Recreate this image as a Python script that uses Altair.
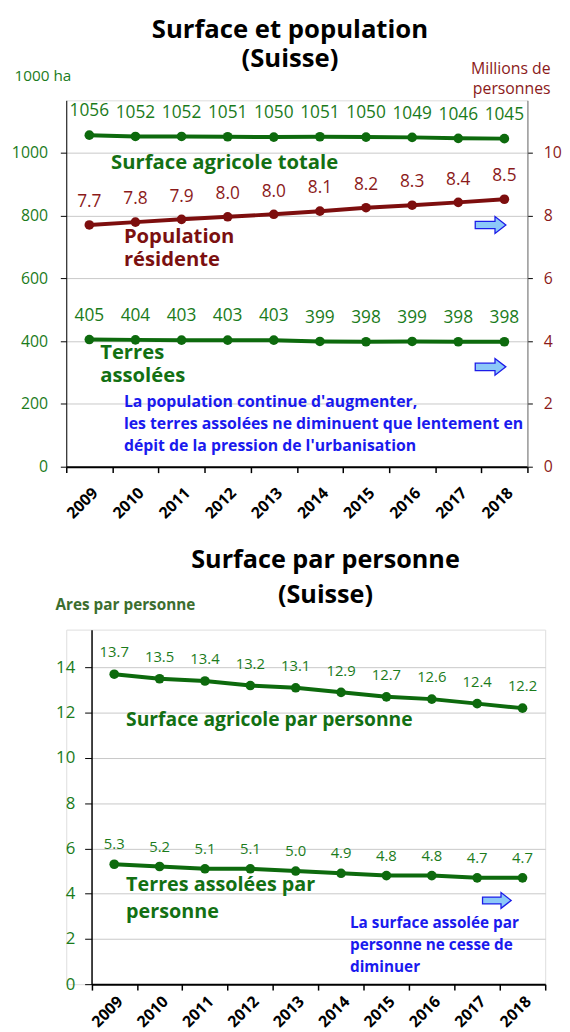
import altair as alt
import pandas as pd

# ---------------- data ----------------
years = ["2009", "2010", "2011", "2012", "2013", "2014", "2015", "2016", "2017", "2018"]
surface_totale = [1056, 1052, 1052, 1051, 1050, 1051, 1050, 1049, 1046, 1045]
terres_assolees = [405, 404, 403, 403, 403, 399, 398, 399, 398, 398]
population = [7.70, 7.79, 7.88, 7.96, 8.04, 8.14, 8.25, 8.33, 8.42, 8.52]
population_labels = ["7.7", "7.8", "7.9", "8.0", "8.0", "8.1", "8.2", "8.3", "8.4", "8.5"]
ares_surface = [13.7, 13.5, 13.4, 13.2, 13.1, 12.9, 12.7, 12.6, 12.4, 12.2]
ares_terres = [5.3, 5.2, 5.1, 5.1, 5.0, 4.9, 4.8, 4.8, 4.7, 4.7]
left_ticks_top = [0, 200, 400, 600, 800, 1000]
right_ticks_top = [0, 2, 4, 6, 8, 10]
ticks_bottom = [0, 2, 4, 6, 8, 10, 12, 14]

# ---------------- styles ----------------
FONT = "Open Sans"
GREEN_LINE = "#0d6a0d"
GREEN_TXT = "#1b7b1b"
GREEN_NAME = "#137013"
RED_LINE = "#7d0e0e"
RED_TXT = "#8b1a1a"
BLUE = "#1a1aee"
ARROW = "M -1 -0.24 L 0.29 -0.24 L 0.29 -0.55 L 1 0 L 0.29 0.55 L 0.29 0.24 L -1 0.24 Z"

TOP_W, TOP_H = 467, 371
BOT_SHIFT, BOT_W, BOT_H = 25.6, 485, 359

top_df = pd.DataFrame({"year": years, "surface": surface_totale, "terres": terres_assolees,
                       "pop": population, "pop_label": population_labels})
bot_df = pd.DataFrame({"year": years, "surf": ares_surface, "terres": ares_terres})


def x_enc(pad=12, rng=None):
    sc = dict(type="band", domain=years, paddingInner=0, paddingOuter=0)
    if rng is not None:
        sc["range"] = rng
    return alt.X("year:N", sort=years, scale=alt.Scale(**sc),
                 axis=alt.Axis(title=None, labelAngle=-45, labelAlign="right", labelBaseline="top",
                               labelFont=FONT, labelFontSize=16, labelFontWeight="bold",
                               labelColor="black", labelPadding=pad, tickBand="extent",
                               tickSize=6, tickColor="black", tickWidth=1.5,
                               domainColor="black", domainWidth=2, grid=False))


def y_left(field):
    return alt.Y(field, type="quantitative",
                 scale=alt.Scale(domain=[0, 1167], nice=False),
                 axis=alt.Axis(values=left_ticks_top, format="d", title="1000 ha", titleAngle=0,
                               titleAlign="left", titleBaseline="alphabetic", titleX=-53, titleY=-20,
                               titleFont=FONT, titleFontSize=15.5, titleFontWeight="normal",
                               titleColor=GREEN_TXT, labelFont=FONT, labelFontSize=16,
                               labelColor=GREEN_TXT, labelPadding=13, tickSize=6,
                               tickColor="black", domainColor="black", domainWidth=1,
                               gridColor="#c8c8c8", gridWidth=1))


def y_right(field):
    return alt.Y(field, type="quantitative",
                 scale=alt.Scale(domain=[0, 11.67], nice=False),
                 axis=alt.Axis(orient="right", values=right_ticks_top, format="d",
                               title=["Millions de", "personnes"], titleAngle=0, titleAlign="right",
                               titleBaseline="alphabetic", titleX=23, titleY=-27, titleLineHeight=20,
                               titleFont=FONT, titleFontSize=16, titleFontWeight="normal",
                               titleColor=RED_TXT, labelFont=FONT, labelFontSize=16,
                               labelColor=RED_TXT, labelPadding=11, tickSize=5,
                               tickColor="black", domainColor="#707070", grid=False))


def y_bot(field):
    return alt.Y(field, type="quantitative",
                 scale=alt.Scale(domain=[0, 15.67], nice=False),
                 axis=alt.Axis(values=ticks_bottom, format="d", title="Ares par personne",
                               offset=-BOT_SHIFT,
                               titleAngle=0, titleAlign="left", titleBaseline="alphabetic",
                               titleX=-37, titleY=-20, titleFont=FONT, titleFontSize=15.5,
                               titleFontWeight="bold", titleColor="#3c6e2e",
                               labelFont=FONT, labelFontSize=17, labelColor=GREEN_TXT,
                               labelPadding=10, tickSize=7, tickColor="black",
                               domainColor="black", domainWidth=1.5,
                               gridColor="#c8c8c8", gridWidth=1))


def anchor(year, v):
    return alt.Chart(pd.DataFrame({"year": [year], "v": [v]}))


# ---------------- top chart ----------------
xt = x_enc()
bt = alt.Chart(top_df)
surf_line = bt.mark_line(color=GREEN_LINE, strokeWidth=4).encode(x=xt, y=y_left("surface"))
surf_pts = bt.mark_circle(size=95, color=GREEN_LINE, opacity=1).encode(x=xt, y=y_left("surface"))
surf_lbl = bt.mark_text(dy=-24, font=FONT, fontSize=17.5, color=GREEN_TXT).encode(
    x=xt, y=y_left("surface"), text=alt.Text("surface:Q", format="d"))
ter_line = bt.mark_line(color=GREEN_LINE, strokeWidth=4).encode(x=xt, y=y_left("terres"))
ter_pts = bt.mark_circle(size=95, color=GREEN_LINE, opacity=1).encode(x=xt, y=y_left("terres"))
ter_lbl = bt.mark_text(dy=-24, font=FONT, fontSize=17.5, color=GREEN_TXT).encode(
    x=xt, y=y_left("terres"), text=alt.Text("terres:Q", format="d"))

name_surf = anchor("2009", 947).mark_text(text="Surface agricole totale", align="left",
                                          baseline="alphabetic", dx=22, font=FONT, fontSize=20.5,
                                          fontWeight="bold", color=GREEN_NAME).encode(x=xt, y=y_left("v"))
name_pop = anchor("2009", 711).mark_text(text=["Population", "résidente"], align="left",
                                         baseline="alphabetic", dx=35, lineHeight=23, font=FONT,
                                         fontSize=20.5, fontWeight="bold", color="#7b1010").encode(
    x=xt, y=y_left("v"))
name_ter = anchor("2009", 343).mark_text(text=["Terres", "assolées"], align="left",
                                         baseline="alphabetic", dx=11, lineHeight=23, font=FONT,
                                         fontSize=20.5, fontWeight="bold", color=GREEN_NAME).encode(
    x=xt, y=y_left("v"))
note_top = anchor("2009", 190).mark_text(
    text=["La population continue  d'augmenter,",
          "les terres assolées ne diminuent que lentement en",
          "dépit de la pression de l'urbanisation"],
    align="left", baseline="alphabetic", dx=35, lineHeight=22.5, font=FONT, fontSize=16,
    fontWeight="bold", color=BLUE).encode(x=xt, y=y_left("v"))
arrows_top = alt.Chart(pd.DataFrame({"year": ["2018", "2018"], "v": [770, 318]})).mark_point(
    shape=ARROW, size=961, filled=True, fill="#8cc8f8", stroke="#1c1ce8", strokeWidth=1.3,
    opacity=1, xOffset=-14).encode(x=xt, y=y_left("v"))

left_layer = alt.layer(surf_line, surf_pts, surf_lbl, ter_line, ter_pts, ter_lbl,
                       name_surf, name_pop, name_ter, note_top, arrows_top)

pop_line = bt.mark_line(color=RED_LINE, strokeWidth=4).encode(x=xt, y=y_right("pop"))
pop_pts = bt.mark_circle(size=95, color=RED_LINE, opacity=1).encode(x=xt, y=y_right("pop"))
pop_lbl = bt.mark_text(dy=-23, font=FONT, fontSize=17.5, color=RED_TXT).encode(
    x=xt, y=y_right("pop"), text="pop_label:N")
right_layer = alt.layer(pop_line, pop_pts, pop_lbl)

top = alt.layer(left_layer, right_layer).resolve_scale(y="independent").properties(
    width=TOP_W, height=TOP_H,
    title=alt.TitleParams("Surface et population", subtitle="(Suisse)", font=FONT, fontSize=26,
                          fontWeight="bold", color="black", subtitleFont=FONT,
                          subtitleFontSize=26, subtitleFontWeight="bold", subtitleColor="black",
                          subtitlePadding=3, anchor="middle", frame="group", offset=-11, dx=-7))

# ---------------- bottom chart ----------------
bb = alt.Chart(bot_df)
xb = x_enc(pad=3, rng=[BOT_SHIFT, BOT_W])
b_surf_line = bb.mark_line(color=GREEN_LINE, strokeWidth=4).encode(x=xb, y=y_bot("surf"))
b_surf_pts = bb.mark_circle(size=95, color=GREEN_LINE, opacity=1).encode(x=xb, y=y_bot("surf"))
b_surf_lbl = bb.mark_text(dy=-22, font=FONT, fontSize=15, color=GREEN_TXT).encode(
    x=xb, y=y_bot("surf"), text=alt.Text("surf:Q", format=".1f"))
b_ter_line = bb.mark_line(color=GREEN_LINE, strokeWidth=4).encode(x=xb, y=y_bot("terres"))
b_ter_pts = bb.mark_circle(size=95, color=GREEN_LINE, opacity=1).encode(x=xb, y=y_bot("terres"))
b_ter_lbl = bb.mark_text(dy=-20, font=FONT, fontSize=15, color=GREEN_TXT).encode(
    x=xb, y=y_bot("terres"), text=alt.Text("terres:Q", format=".1f"))

b_name_surf = anchor("2009", 11.4).mark_text(text="Surface agricole par personne", align="left",
                                             baseline="alphabetic", dx=12, font=FONT, fontSize=19.5,
                                             fontWeight="bold", color=GREEN_NAME).encode(
    x=xb, y=y_bot("v"))
b_name_ter = anchor("2009", 4.11).mark_text(text=["Terres assolées par", "personne"], align="left",
                                            baseline="alphabetic", dx=12, lineHeight=27, font=FONT,
                                            fontSize=20, fontWeight="bold", color=GREEN_NAME).encode(
    x=xb, y=y_bot("v"))
b_note = anchor("2014", 2.5).mark_text(
    text=["La surface assolée par", "personne ne cesse de", "diminuer"],
    align="left", baseline="alphabetic", dx=9, lineHeight=22.5, font=FONT, fontSize=15.5,
    fontWeight="bold", color=BLUE).encode(x=xb, y=y_bot("v"))
b_arrow = anchor("2018", 3.7).mark_point(
    shape=ARROW, size=841, filled=True, fill="#8cc8f8", stroke="#1c1ce8", strokeWidth=1.3,
    opacity=1, xOffset=-26).encode(x=xb, y=y_bot("v"))

bottom = alt.layer(b_surf_line, b_surf_pts, b_surf_lbl, b_ter_line, b_ter_pts, b_ter_lbl,
                   b_name_surf, b_name_ter, b_note, b_arrow).properties(
    width=BOT_W, height=BOT_H,
    title=alt.TitleParams("Surface par personne", subtitle="(Suisse)", font=FONT, fontSize=25.5,
                          fontWeight="bold", color="black", subtitleFont=FONT,
                          subtitleFontSize=25.5, subtitleFontWeight="bold", subtitleColor="black",
                          subtitlePadding=10, anchor="middle", frame="group", offset=-11, dx=20))

chart = alt.vconcat(top, bottom, spacing=26).properties(
    padding={"left": 2, "top": 2, "right": 0, "bottom": 0}
).configure_view(stroke=None).configure(font=FONT)

chart.save("out.html", embed_options={"renderer": "svg", "actions": False})
